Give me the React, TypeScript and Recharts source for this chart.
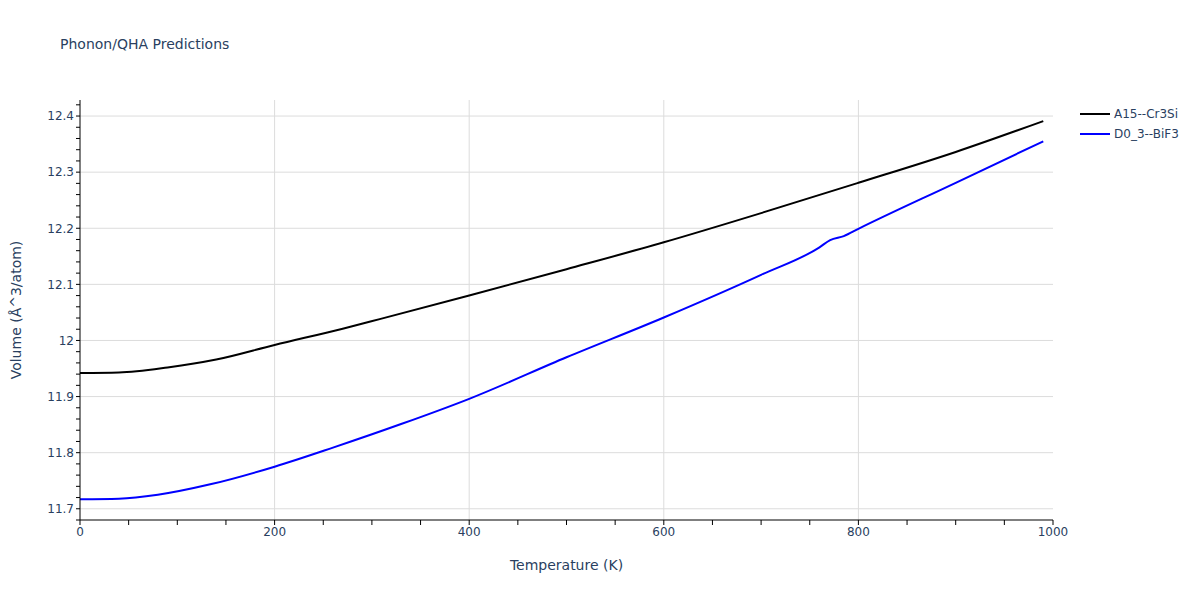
import { LineChart, Line, XAxis, YAxis, ReferenceLine } from "recharts";

const CR3SI_T = [0, 40, 90, 140, 200, 270, 308, 400, 500, 600, 700, 800, 900, 990];
const CR3SI_V = [11.942, 11.943, 11.952, 11.966, 11.992, 12.021, 12.038, 12.08, 12.127, 12.175, 12.227, 12.281, 12.336, 12.391];

const BIF3_T = [0, 40, 80, 135, 200, 260, 330, 400, 500, 600, 700, 760, 771, 785, 800, 900, 990];
const BIF3_V = [11.717, 11.718, 11.725, 11.744, 11.775, 11.809, 11.851, 11.896, 11.97, 12.041, 12.117, 12.166, 12.179, 12.186, 12.199, 12.281, 12.355];

const X_TICKS = Array.from({ length: 21 }, (_, i) => i * 50);
const Y_TICKS = Array.from({ length: 38 }, (_, i) => Math.round((11.68 + i * 0.02) * 100) / 100);
const X_GRID = [200, 400, 600, 800];
const Y_GRID = [11.7, 11.8, 11.9, 12, 12.1, 12.2, 12.3, 12.4];

const TEXT = "#2a3f5f";
const FONT = '"DejaVu Sans", Verdana, sans-serif';

const cr3si = CR3SI_T.map((t, i) => ({ t, v: CR3SI_V[i] }));
const bif3 = BIF3_T.map((t, i) => ({ t, v: BIF3_V[i] }));

const SERIES = [
  { name: "A15--Cr3Si", data: cr3si, color: "#000000" },
  { name: "D0_3--BiF3", data: bif3, color: "#0000ff" },
];

export default function App() {
  return (
    <div style={{ position: "absolute", left: 0, top: 0, width: 1200, height: 600, fontFamily: FONT, background: "#fff" }}>
      <div style={{ position: "absolute", left: 60, top: 36, fontSize: 14, color: TEXT }}>
        Phonon/QHA Predictions
      </div>
      <LineChart width={1200} height={600} margin={{ top: 100, right: 147, left: 0, bottom: 0 }}>
        {X_GRID.map((x) => (
          <ReferenceLine key={"x" + x} x={x} stroke="#dcdcdc" strokeWidth={1} />
        ))}
        {Y_GRID.map((y) => (
          <ReferenceLine key={"y" + y} y={y} stroke="#dcdcdc" strokeWidth={1} />
        ))}
        <XAxis
          type="number"
          dataKey="t"
          domain={[0, 1000]}
          ticks={X_TICKS}
          interval={0}
          allowDataOverflow
          height={80}
          tickSize={5}
          axisLine={{ stroke: "#000" }}
          tickLine={{ stroke: "#000" }}
          tick={{ fill: TEXT, fontSize: 12, fontFamily: FONT }}
          tickFormatter={(v: number) => (v % 200 === 0 ? String(v) : "")}
          label={{ value: "Temperature (K)", position: "insideBottom", offset: 30, fill: TEXT, fontSize: 14, fontFamily: FONT }}
        />
        <YAxis
          type="number"
          domain={[11.68, 12.4286]}
          ticks={Y_TICKS}
          interval={0}
          allowDataOverflow
          width={80}
          tickSize={4}
          axisLine={{ stroke: "#000" }}
          tickLine={{ stroke: "#000" }}
          tick={{ fill: TEXT, fontSize: 12, fontFamily: FONT }}
          tickFormatter={(v: number) => {
            const k = Math.round(v * 100);
            if (k % 10 !== 0) return "";
            return k % 100 === 0 ? String(k / 100) : (k / 100).toFixed(1);
          }}
          label={{
            value: "Volume (Å^3/atom)",
            angle: -90,
            position: "insideLeft",
            offset: 16,
            fill: TEXT,
            fontSize: 14,
            fontFamily: FONT,
            style: { textAnchor: "middle" },
          }}
        />
        {SERIES.map((s) => (
          <Line
            key={s.name}
            data={s.data}
            dataKey="v"
            name={s.name}
            type="monotone"
            stroke={s.color}
            strokeWidth={2}
            dot={false}
            isAnimationActive={false}
          />
        ))}
      </LineChart>
      {SERIES.map((s, i) => (
        <div
          key={s.name}
          style={{ position: "absolute", left: 1080, top: 105 + i * 20, height: 18, display: "flex", alignItems: "center", fontSize: 12, color: TEXT }}
        >
          <span style={{ display: "inline-block", width: 30, height: 2, background: s.color, marginRight: 4 }} />
          {s.name}
        </div>
      ))}
    </div>
  );
}
